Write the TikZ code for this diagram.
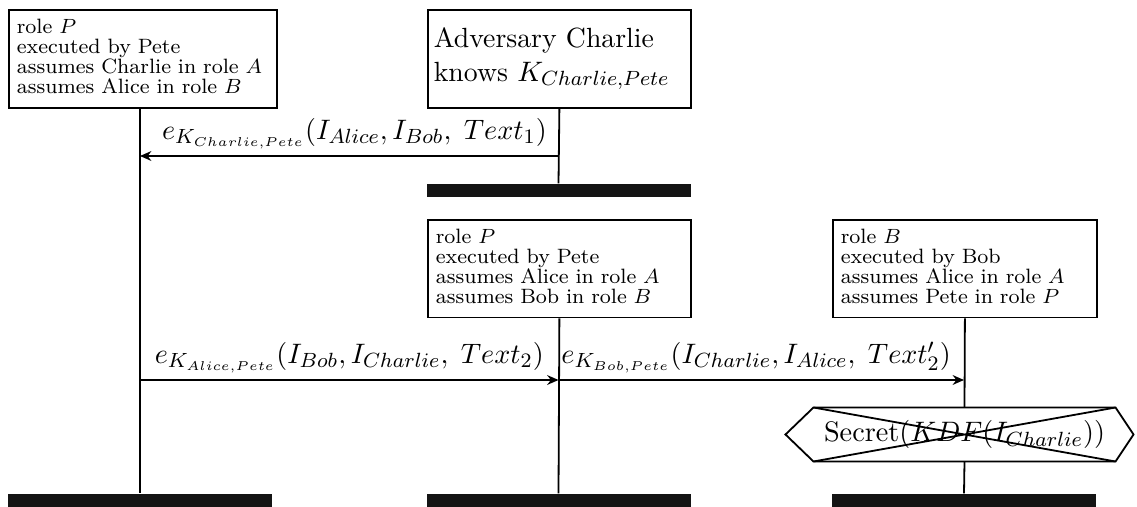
\documentclass[tikz,border=0pt]{standalone}
\usepackage{amsmath,amssymb}
\usepackage{tikz}
\usetikzlibrary{arrows.meta, positioning, calc}
\newcommand{\lastdepth}[1]{\rule[-#1]{0pt}{#1}}
\tikzset{
  inst/.style={rectangle, draw=black, line width=0.7pt, align=left,
               anchor=north west, inner xsep=3.1pt, inner ysep=3.5pt,
               font=\fontsize{8.07}{7.8}\selectfont},
  endbar/.style={rectangle, fill=black!92, draw=none, inner sep=0pt,
                 minimum width=102.7pt, minimum height=5.1pt},
  life/.style={draw=black, line width=0.7pt},
  msg/.style={-{Stealth[length=4.4pt, width=3.8pt]}, draw=black, line width=0.7pt},
  msglabel/.style={font=\fontsize{10.99}{12.6}\selectfont, inner sep=2.5pt, anchor=south},
}

\begin{document}
\begin{tikzpicture}[x=0.389pt, y=-0.389pt]
  \useasboundingbox (0,0) rectangle (1137,507);

  \node[inst, text width=98pt] (petea) at (8,9)
    {role $P$\\executed by Pete\\assumes Charlie in role $A$\\assumes Alice in role $B$\lastdepth{2.3pt}};
  \node[inst, font=\fontsize{10.8}{13}\selectfont, inner xsep=2.3pt, inner ysep=7pt,
        text width=97.7pt] (charlie) at (427,9)
    {Adversary Charlie\\knows $K_{Charlie,Pete}$\lastdepth{3.5pt}};
  \node[inst, text width=96.1pt] (peteb) at (427,219)
    {role $P$\\executed by Pete\\assumes Alice in role $A$\\assumes Bob in role $B$\lastdepth{2pt}};
  \node[inst, text width=96.5pt] (bob) at (832,219)
    {role $B$\\executed by Bob\\assumes Alice in role $A$\\assumes Pete in role $P$\lastdepth{2pt}};

  \node[endbar] (petea-end) at (140,500.5) {};
  \node[endbar] (charlie-end) at (558.5,190.5) {};
  \node[endbar] (peteb-end) at (558.5,500.5) {};
  \node[endbar] (bob-end) at (964,500.5) {};

  % condition on Bob's lifeline
  \node[minimum width=117.1pt, minimum height=20.6pt, inner sep=0pt,
        font=\fontsize{10.99}{12.6}\selectfont] (secret) at (964.5,434.5)
    {Secret($KDF(I_{Charlie})$)\hspace{4pt}};
  \draw[life] (secret.north west) -- (secret.north east) -- ($(secret.east)+(18,0)$)
    -- (secret.south east) -- (secret.south west) -- ($(secret.west)+(-28,0)$) -- cycle;
  \draw[life] (secret.north west) -- (secret.south east)
              (secret.south west) -- (secret.north east);

  \draw[life] (petea-end.north |- petea.south) -- (petea-end.north);
  \draw[life] (charlie.south) -- (charlie-end.north);
  \draw[life] (peteb.south) -- (peteb-end.north);
  \draw[life] (bob.south) -- (secret.north);
  \draw[life] (secret.south) -- (bob-end.north);

  \coordinate (m1) at (0,156);
  \coordinate (m2) at (0,380);
  \draw[msg] (charlie-end.north |- m1) -- node[msglabel, xshift=2pt] {$e_{K_{Charlie,Pete}}(I_{Alice}, I_{Bob},\; Text_1)$} (petea-end.north |- m1);
  \draw[msg] (petea-end.north |- m2) -- node[msglabel] {$e_{K_{Alice,Pete}}(I_{Bob}, I_{Charlie},\; Text_2)$} (peteb-end.north |- m2);
  \draw[msg] (peteb-end.north |- m2) -- node[msglabel, xshift=-2pt] {$e_{K_{Bob,Pete}}(I_{Charlie}, I_{Alice},\; Text'_2)$} (bob-end.north |- m2);
\end{tikzpicture}
\end{document}
